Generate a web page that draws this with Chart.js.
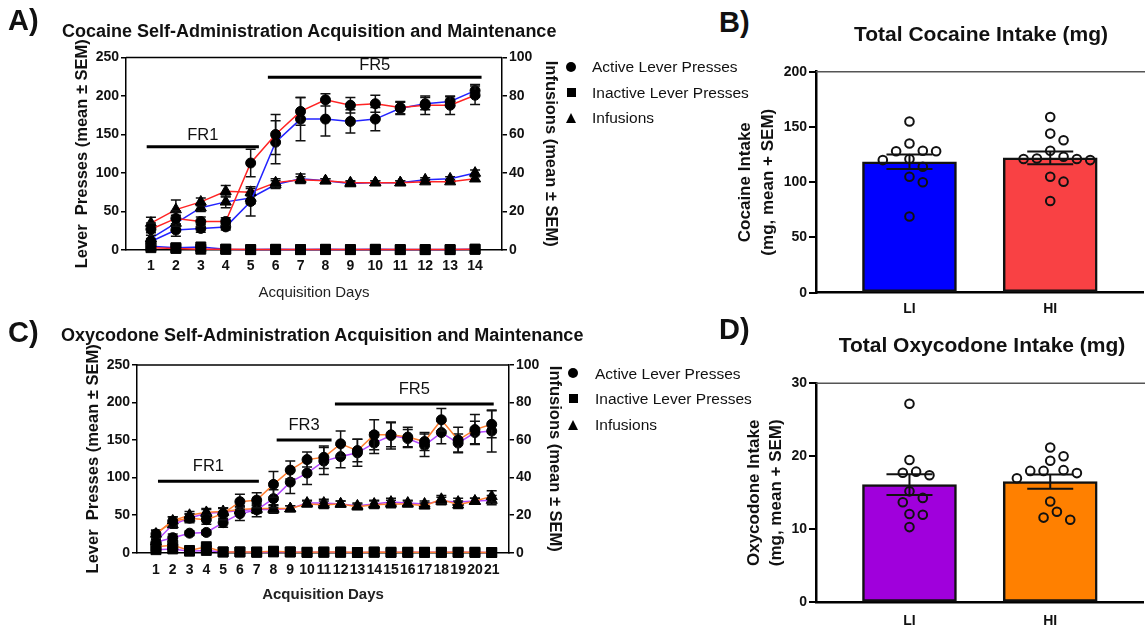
<!DOCTYPE html>
<html>
<head>
<meta charset="utf-8">
<script src="https://cdn.jsdelivr.net/npm/chart.js@4.4.0/dist/chart.umd.min.js"></script>
<style>
html, body { margin: 0; padding: 0; background: #fff; overflow: hidden; width: 1145px; height: 626px; }
body { position: relative; font-family: "Liberation Sans", Arial, sans-serif; color: #111; }
canvas { position: absolute; }
.t { position: absolute; white-space: pre; line-height: 1; }
.mk { position: absolute; background: #000; }
.tri { position: absolute; width: 0; height: 0; border-left: 5.5px solid transparent; border-right: 5.5px solid transparent; border-bottom: 10px solid #000; }
</style>
</head>
<body>
<canvas id="cocLine" width="565" height="312" style="left:0;top:0"></canvas>
<canvas id="cocBar" width="460" height="290" style="left:690px;top:40px"></canvas>
<canvas id="oxyLine" width="570" height="296" style="left:0;top:330px"></canvas>
<canvas id="oxyBar" width="460" height="281" style="left:690px;top:345px"></canvas>
<script>
const FONT = '"Liberation Sans", Arial, sans-serif';

// ---- panel A: cocaine acquisition (LI = blue, HI = red) ----
const cocDays = [1, 2, 3, 4, 5, 6, 7, 8, 9, 10, 11, 12, 13, 14];
const cocActiveLI    = [11, 26, 28, 30, 63, 140, 170, 170, 167, 170, 184, 190, 193, 207];
const cocActiveLIsem = [4, 8, 5, 4, 19, 28, 28, 22, 15, 15, 8, 8, 6, 8];
const cocActiveHI    = [27, 41, 37, 37, 113, 150, 180, 195, 188, 190, 185, 188, 188, 201];
const cocActiveHIsem = [8, 10, 6, 5, 18, 26, 18, 8, 10, 11, 8, 12, 12, 12];
const cocInactiveLI    = [5, 3, 4, 1, 0.5, 1, 0.5, 1, 0.5, 1, 0.5, 0.5, 0.5, 1];
const cocInactiveLIsem = [3, 1, 2, 1, 0.5, 0.5, 0.5, 0.5, 0.5, 0.5, 0.5, 0.5, 0.5, 0.5];
const cocInactiveHI    = [3, 2, 1, 1, 0.5, 0.5, 0.5, 0.5, 0.5, 0.5, 0.5, 0.5, 0.5, 1];
const cocInactiveHIsem = [2, 1, 1, 0.5, 0.5, 0.5, 0.5, 0.5, 0.5, 0.5, 0.5, 0.5, 0.5, 0.5];
const cocInfLI    = [6, 14, 22, 25, 27, 34, 37, 36, 34.5, 35, 35, 36.5, 37, 40];
const cocInfLIsem = [3, 4, 2, 3, 3, 2, 2.5, 1, 1, 1, 1, 1, 1, 1.5];
const cocInfHI    = [14, 21, 25, 30.5, 30, 35, 36.5, 36, 35, 35, 35, 35.5, 35.5, 37];
const cocInfHIsem = [3, 5, 2, 3, 2, 2, 1.5, 1, 1, 1, 1, 1, 1, 1];
const cocPhaseLabels = ['FR1', 'FR5'];
const cocPhaseStart  = [0.83, 5.69];
const cocPhaseEnd    = [5.33, 14.26];
const cocPhaseLevel  = [134, 224.5];

// ---- panel C: oxycodone acquisition (LI = purple, HI = orange) ----
const oxyDays = [1, 2, 3, 4, 5, 6, 7, 8, 9, 10, 11, 12, 13, 14, 15, 16, 17, 18, 19, 20, 21];
const oxyActiveLI    = [14, 20, 26, 27, 40, 52, 57, 72, 94, 106, 122, 128, 133, 146, 156, 152, 143, 160, 146, 160, 162];
const oxyActiveLIsem = [4, 5, 3, 3, 6, 9, 9, 12, 15, 15, 18, 15, 18, 14, 18, 12, 15, 15, 12, 15, 28];
const oxyActiveHI    = [25, 42, 46, 44, 52, 68, 70, 91, 110, 124, 127, 145, 136, 157, 157, 154, 148, 177, 150, 164, 171];
const oxyActiveHIsem = [5, 6, 6, 6, 8, 10, 10, 17, 12, 10, 15, 17, 15, 20, 16, 13, 12, 15, 17, 20, 18];
const oxyInactiveLI    = [4, 5, 2, 3, 1, 1, 0.5, 1, 1, 0.5, 0.5, 0.5, 0.3, 0.5, 0.5, 0.5, 0.5, 0.5, 0.5, 0.5, 0.3];
const oxyInactiveLIsem = [3, 3, 1, 2, 0.5, 0.5, 0.5, 0.5, 0.5, 0.5, 0.5, 0.5, 0.5, 0.5, 0.5, 0.5, 0.5, 0.5, 0.5, 0.5, 0.5];
const oxyInactiveHI    = [8, 10, 3, 8, 1, 1, 1, 2, 1, 0.5, 1, 1, 0.3, 1, 0.5, 0.5, 0.5, 0.5, 0.5, 0.5, 0.3];
const oxyInactiveHIsem = [4, 5, 1, 4, 0.5, 0.5, 0.5, 1, 0.5, 0.5, 0.5, 0.5, 0.5, 0.5, 0.5, 0.5, 0.5, 0.5, 0.5, 0.5, 0.5];
const oxyInfLI    = [6, 15, 18.5, 21, 21.5, 22.5, 23, 23, 23.5, 26.5, 26.5, 26, 25, 26, 27, 26.5, 26, 27.5, 27, 27.5, 28];
const oxyInfLIsem = [2, 2, 2, 2, 2, 2, 2, 2, 1.5, 1.5, 2, 1.5, 1.5, 2, 2, 1.5, 1.5, 2, 2, 1.5, 2.5];
const oxyInfHI    = [10, 17, 20, 21.5, 22, 23, 23.5, 23.5, 23.5, 26, 25.5, 26, 24.5, 25.5, 26, 26, 25, 28.5, 25.5, 27.5, 30];
const oxyInfHIsem = [2, 2, 2, 2, 2, 2, 2, 2, 1.5, 1.5, 2, 1.5, 1.5, 2, 2, 1.5, 1.5, 2, 2, 1.5, 3];
const oxyPhaseLabels = ['FR1', 'FR3', 'FR5'];
const oxyPhaseStart  = [1.12, 8.19, 11.66];
const oxyPhaseEnd    = [7.13, 11.46, 21.12];
const oxyPhaseLevel  = [95, 150, 198];

// ---- panels B and D: individual total intake (mg) ----
const groups = ['LI', 'HI'];
const cocIntakeLI = [155, 135, 128, 128, 128.5, 121, 120, 114, 105, 100, 69];
const cocIntakeHI = [159, 144, 138, 128.5, 123, 121, 120, 121, 121.5, 105, 100.5, 83];
const oxyIntakeLI = [27.2, 19.5, 17.9, 17.75, 17.4, 15.2, 14.3, 13.7, 12.1, 12.0, 10.3];
const oxyIntakeHI = [21.2, 20.0, 19.4, 18.1, 18.0, 18.0, 17.7, 17.0, 13.8, 12.4, 11.6, 11.3];

const mean = a => a.reduce((s, v) => s + v, 0) / a.length;
const sem = a => { const m = mean(a); return Math.sqrt(a.reduce((s, v) => s + (v - m) ** 2, 0) / (a.length - 1) / a.length); };

// error bars: under line markers, on top of bars
function drawErrors(chart, i, cap) {
  const ds = chart.data.datasets[i];
  if (!ds.errors) return;
  const meta = chart.getDatasetMeta(i);
  const ys = chart.scales[meta.yAxisID];
  const ctx = chart.ctx;
  ctx.save();
  ctx.strokeStyle = '#111';
  ctx.lineWidth = ds.errorWidth || 1.5;
  meta.data.forEach((el, j) => {
    const v = ds.data[j].y, e = ds.errors[j];
    if (!e) return;
    const t = ys.getPixelForValue(v + e), b = ys.getPixelForValue(Math.max(0, v - e));
    const w = cap / 2;
    ctx.beginPath();
    ctx.moveTo(el.x, t); ctx.lineTo(el.x, b);
    ctx.moveTo(el.x - w, t); ctx.lineTo(el.x + w, t);
    ctx.moveTo(el.x - w, b); ctx.lineTo(el.x + w, b);
    ctx.stroke();
  });
  ctx.restore();
}
const errorBars = {
  id: 'errorBars',
  beforeDatasetDraw(chart, args) { if (args.meta.type !== 'bar') drawErrors(chart, args.index, 10); },
  afterDatasetDraw(chart, args) { if (args.meta.type === 'bar') drawErrors(chart, args.index, 46); }
};

// top border of the plot frame
const frame = {
  id: 'frame',
  afterDraw(chart, args, o) {
    const { ctx, chartArea: a } = chart;
    ctx.save();
    ctx.strokeStyle = o.color || '#000';
    ctx.lineWidth = o.width || 1.5;
    ctx.beginPath();
    ctx.moveTo(a.left, a.top);
    ctx.lineTo(o.toEdge ? chart.width : a.right, a.top);
    ctx.stroke();
    ctx.restore();
  }
};

// FR schedule bars with labels
const phases = {
  id: 'phases',
  afterDraw(chart, args, o) {
    if (!o.labels) return;
    const { ctx, scales: { x, y } } = chart;
    ctx.save();
    ctx.strokeStyle = '#000';
    ctx.fillStyle = '#111';
    ctx.lineWidth = 3;
    ctx.font = '16.5px ' + FONT;
    ctx.textAlign = 'center';
    ctx.textBaseline = 'middle';
    o.labels.forEach((lab, i) => {
      const x0 = x.getPixelForValue(o.start[i]), x1 = x.getPixelForValue(o.end[i]);
      const py = y.getPixelForValue(o.level[i]);
      ctx.beginPath(); ctx.moveTo(x0, py); ctx.lineTo(x1, py); ctx.stroke();
      ctx.fillText(lab, (x0 + x1) / 2, py - o.gap);
    });
    ctx.restore();
  }
};

function series(days, vals, errs, color, style, axis, r) {
  return {
    data: days.map((d, i) => ({ x: d, y: vals[i] })),
    errors: errs,
    yAxisID: axis,
    borderColor: color,
    borderWidth: 1.5,
    backgroundColor: '#000',
    pointStyle: style,
    pointRadius: r,
    pointBackgroundColor: '#000',
    pointBorderColor: '#000',
    pointBorderWidth: 1,
    tension: 0,
    clip: false
  };
}

function lineChart(id, cfg) {
  const tickFont = { family: FONT, size: 14, weight: 'bold' };
  const axisTitle = (text, pad) => ({ display: true, text, color: '#111', font: { family: FONT, size: 16.5, weight: 'bold' }, padding: { top: pad, bottom: 0 } });
  const c = cfg.colors;
  return new Chart(document.getElementById(id), {
    type: 'line',
    data: {
      datasets: [
        series(cfg.days, cfg.activeHI, cfg.activeHIsem, c[1], 'circle', 'y', 5),
        series(cfg.days, cfg.activeLI, cfg.activeLIsem, c[0], 'circle', 'y', 5),
        series(cfg.days, cfg.infHI, cfg.infHIsem, c[1], 'triangle', 'y1', 6.4),
        series(cfg.days, cfg.infLI, cfg.infLIsem, c[0], 'triangle', 'y1', 6.4),
        series(cfg.days, cfg.inactiveHI, cfg.inactiveHIsem, c[1], 'rect', 'y', 7),
        series(cfg.days, cfg.inactiveLI, cfg.inactiveLIsem, c[0], 'rect', 'y', 7)
      ]
    },
    options: {
      responsive: false,
      animation: false,
      layout: { padding: { top: cfg.top, left: 0, right: 0, bottom: 0 } },
      plugins: {
        legend: { display: false },
        tooltip: { enabled: false },
        frame: { color: '#000', width: 1.5 },
        phases: { labels: cfg.phaseLabels, start: cfg.phaseStart, end: cfg.phaseEnd, level: cfg.phaseLevel, gap: cfg.phaseGap }
      },
      scales: {
        x: {
          type: 'linear', min: cfg.xMin, max: cfg.xMax,
          afterBuildTicks: s => { s.ticks = cfg.days.map(d => ({ value: d })); },
          afterFit: s => { s.height = cfg.xHeight; },
          grid: { display: false, drawTicks: false },
          border: { display: true, color: '#000', width: 1.5 },
          ticks: { autoSkip: false, maxRotation: 0, padding: cfg.xPad, color: '#111', font: tickFont },
          title: { display: true, text: 'Acquisition Days', color: '#222', font: { family: FONT, size: 15, weight: cfg.xTitleWeight }, padding: { top: 0, bottom: cfg.xTitlePad } }
        },
        y: {
          position: 'left', min: 0, max: 250,
          afterFit: s => { s.width = cfg.leftWidth; },
          grid: { drawOnChartArea: false, drawTicks: true, tickLength: 5, color: '#000', lineWidth: 1.5 },
          border: { display: true, color: '#000', width: 1.5 },
          ticks: { stepSize: 50, padding: 2, color: '#111', font: tickFont },
          title: axisTitle('Lever  Presses (mean \u00b1 SEM)', cfg.leftTitlePad)
        },
        y1: {
          position: 'right', min: 0, max: 100,
          afterFit: s => { s.width = cfg.rightWidth; },
          grid: { drawOnChartArea: false, drawTicks: true, tickLength: 5, color: '#000', lineWidth: 1.5 },
          border: { display: true, color: '#000', width: 1.5 },
          ticks: { stepSize: 20, padding: 2, color: '#111', font: tickFont },
          title: axisTitle('Infusions (mean \u00b1 SEM)', cfg.rightTitlePad)
        }
      }
    },
    plugins: [errorBars, frame, phases]
  });
}

function swarmX(chart, center, values, r) {
  const xs = chart.scales.x, ys = chart.scales.y;
  const cx = xs.getPixelForValue(center);
  const step = r * 1.55, minD = 2 * r + 3.5;
  const placed = [], out = [];
  values.map((v, i) => i).sort((a, b) => values[b] - values[a]).forEach(i => {
    const py = ys.getPixelForValue(values[i]);
    for (let k = 0; k < 60; k++) {
      const px = cx + (k % 2 ? 1 : -1) * Math.ceil(k / 2) * step;
      if (placed.every(p => Math.hypot(p[0] - px, p[1] - py) >= minD)) {
        placed.push([px, py]);
        out[i] = xs.getValueForPixel(px);
        break;
      }
    }
  });
  return out;
}

function barChart(id, cfg) {
  const tickFont = { family: FONT, size: 14, weight: 'bold' };
  const dots = vals => ({
    type: 'scatter',
    data: vals.map(v => ({ x: 0, y: v })),
    pointRadius: 4.3,
    pointBorderWidth: 2,
    pointBorderColor: '#111',
    pointBackgroundColor: 'rgba(0,0,0,0)',
    clip: false,
    order: 0
  });
  const chart = new Chart(document.getElementById(id), {
    type: 'bar',
    data: {
      datasets: [
        dots(cfg.li),
        dots(cfg.hi),
        {
          type: 'bar',
          data: [{ x: 1, y: mean(cfg.li) }, { x: 2, y: mean(cfg.hi) }],
          errors: [sem(cfg.li), sem(cfg.hi)],
          errorWidth: 2,
          backgroundColor: cfg.colors,
          borderColor: '#111',
          borderWidth: 2.5,
          borderSkipped: false,
          barThickness: 94,
          grouped: false,
          order: 1
        }
      ]
    },
    options: {
      responsive: false,
      animation: false,
      layout: { padding: { top: cfg.top, left: 0, right: 4.5, bottom: 0 } },
      plugins: { legend: { display: false }, tooltip: { enabled: false }, frame: { color: '#555', width: 1.5, toEdge: true } },
      scales: {
        x: {
          type: 'linear', min: 0.336, max: 2.664, offset: false,
          afterBuildTicks: s => { s.ticks = groups.map((g, i) => ({ value: i + 1 })); },
          afterFit: s => { s.height = cfg.xHeight; },
          grid: { display: false, drawTicks: false, offset: false },
          border: { display: true, color: '#000', width: 2.5 },
          ticks: { autoSkip: false, maxRotation: 0, padding: cfg.xPad, color: '#111', font: tickFont, callback: v => groups[v - 1] }
        },
        y: {
          min: 0, max: cfg.yMax,
          afterFit: s => { s.width = 126; },
          grid: { drawOnChartArea: false, drawTicks: true, tickLength: 7, color: '#000', lineWidth: 2 },
          border: { display: true, color: '#000', width: 2.5 },
          ticks: { stepSize: cfg.yStep, padding: 2, color: '#111', font: tickFont },
          title: { display: true, text: cfg.yTitle, color: '#111', font: { family: FONT, size: 17, weight: 'bold', lineHeight: 1.32 }, padding: { top: cfg.yTitlePad, bottom: 0 } }
        }
      }
    },
    plugins: [errorBars, frame]
  });
  const xsLI = swarmX(chart, 1, cfg.li, 4.3), xsHI = swarmX(chart, 2, cfg.hi, 4.3);
  chart.data.datasets[0].data = cfg.li.map((v, i) => ({ x: xsLI[i], y: v }));
  chart.data.datasets[1].data = cfg.hi.map((v, i) => ({ x: xsHI[i], y: v }));
  chart.update('none');
  return chart;
}

lineChart('cocLine', {
  days: cocDays, colors: ['#2323ff', '#ff2424'],
  activeLI: cocActiveLI, activeLIsem: cocActiveLIsem, activeHI: cocActiveHI, activeHIsem: cocActiveHIsem,
  inactiveLI: cocInactiveLI, inactiveLIsem: cocInactiveLIsem, inactiveHI: cocInactiveHI, inactiveHIsem: cocInactiveHIsem,
  infLI: cocInfLI, infLIsem: cocInfLIsem, infHI: cocInfHI, infHIsem: cocInfHIsem,
  phaseLabels: cocPhaseLabels, phaseStart: cocPhaseStart, phaseEnd: cocPhaseEnd, phaseLevel: cocPhaseLevel, phaseGap: 11.5,
  xMin: 0, xMax: 15.08, top: 57.5, xHeight: 62, xPad: 8, xTitlePad: 10, xTitleWeight: 'normal',
  leftWidth: 126, rightWidth: 63, leftTitlePad: 73, rightTitlePad: 5
});

lineChart('oxyLine', {
  days: oxyDays, colors: ['#b347ff', '#ff7f32'],
  activeLI: oxyActiveLI, activeLIsem: oxyActiveLIsem, activeHI: oxyActiveHI, activeHIsem: oxyActiveHIsem,
  inactiveLI: oxyInactiveLI, inactiveLIsem: oxyInactiveLIsem, inactiveHI: oxyInactiveHI, inactiveHIsem: oxyInactiveHIsem,
  infLI: oxyInfLI, infLIsem: oxyInfLIsem, infHI: oxyInfHI, infHIsem: oxyInfHIsem,
  phaseLabels: oxyPhaseLabels, phaseStart: oxyPhaseStart, phaseEnd: oxyPhaseEnd, phaseLevel: oxyPhaseLevel, phaseGap: 15,
  xMin: -0.13, xMax: 22.03, top: 35, xHeight: 73.3, xPad: 9, xTitlePad: 22, xTitleWeight: 'bold',
  leftWidth: 137, rightWidth: 61, leftTitlePad: 84, rightTitlePad: 6
});

barChart('cocBar', {
  li: cocIntakeLI, hi: cocIntakeHI, colors: ['#0000ff', '#f94144'],
  yMax: 200, yStep: 50, yTitle: ['Cocaine Intake', '(mg, mean + SEM)'], yTitlePad: 44.5,
  top: 31.7, xHeight: 37.3, xPad: 8
});

barChart('oxyBar', {
  li: oxyIntakeLI, hi: oxyIntakeHI, colors: ['#a000dc', '#ff8000'],
  yMax: 30, yStep: 10, yTitle: ['Oxycodone Intake', '(mg, mean + SEM)'], yTitlePad: 52.7,
  top: 38.3, xHeight: 23.7, xPad: 10
});

// ---- text: panel letters, titles, legends ----
function addText(txt, x, base, size, weight, align) {
  const d = document.createElement('div');
  d.className = 't';
  d.textContent = txt;
  d.style.fontFamily = FONT;
  d.style.fontSize = size + 'px';
  d.style.fontWeight = weight;
  d.style.top = (base - 0.8465 * size) + 'px';
  d.style.left = x + 'px';
  if (align === 'center') d.style.transform = 'translateX(-50%)';
  document.body.appendChild(d);
}
addText('A)', 8, 31, 29, 'bold');
addText('B)', 719, 33, 29, 'bold');
addText('C)', 8, 343, 29, 'bold');
addText('D)', 719, 340, 29, 'bold');
addText('Cocaine Self-Administration Acquisition and Maintenance', 62, 37.5, 18, 'bold');
addText('Oxycodone Self-Administration Acquisition and Maintenance', 61, 341.5, 18, 'bold');
addText('Total Cocaine Intake (mg)', 981, 40.5, 21, 'bold', 'center');
addText('Total Oxycodone Intake (mg)', 982, 351.5, 21, 'bold', 'center');

const legendLabels = ['Active Lever Presses', 'Inactive Lever Presses', 'Infusions'];
function legend(mx, tx, rows) {
  rows.forEach((cy, i) => {
    const m = document.createElement('div');
    if (i === 0) { m.className = 'mk'; m.style.cssText += `left:${mx - 5}px;top:${cy - 5}px;width:10px;height:10px;border-radius:50%;`; }
    if (i === 1) { m.className = 'mk'; m.style.cssText += `left:${mx - 4.5}px;top:${cy - 4.5}px;width:9px;height:9px;`; }
    if (i === 2) { m.className = 'tri'; m.style.cssText += `left:${mx - 5.5}px;top:${cy - 5}px;`; }
    document.body.appendChild(m);
    addText(legendLabels[i], tx, cy + 5.5, 15.5, 'normal');
  });
}
legend(571, 592, [66.7, 92.3, 118]);
legend(573, 595, [373.3, 398.3, 425]);
</script>
</body>
</html>
